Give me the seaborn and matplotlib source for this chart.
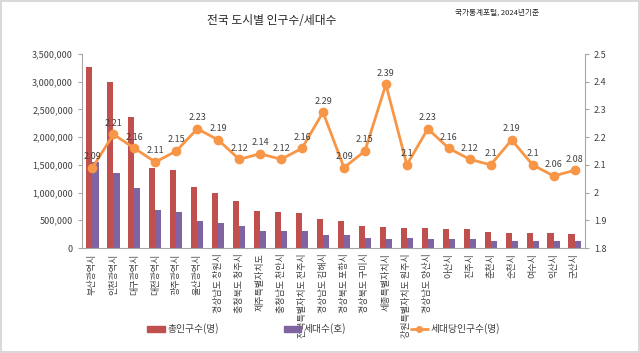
import numpy as np
import pandas as pd
import matplotlib
matplotlib.use("Agg")
import matplotlib.pyplot as plt
import seaborn as sns
from matplotlib.ticker import FuncFormatter, FixedLocator
from matplotlib.patches import Patch
from matplotlib.lines import Line2D

cities = ["부산광역시", "인천광역시", "대구광역시", "대전광역시", "광주광역시", "울산광역시",
          "경상남도 창원시", "충청북도 청주시", "제주특별자치도", "충청남도 천안시",
          "전북특별자치도 전주시", "경상남도 김해시", "경상북도 포항시", "경상북도 구미시",
          "세종특별자치시", "강원특별자치도 원주시", "경상남도 양산시", "아산시", "진주시",
          "춘천시", "순천시", "여수시", "익산시", "군산시"]
population = [3270000, 2990000, 2360000, 1440000, 1410000, 1100000, 1000000, 845000,
              670000, 655000, 635000, 525000, 490000, 405000, 385000, 360000, 353000,
              345000, 338000, 283000, 276000, 274000, 270000, 260000]
households = [1560000, 1350000, 1090000, 680000, 655000, 490000, 455000, 398000,
              312000, 308000, 300000, 228000, 232000, 188000, 168000, 176000, 165000,
              157000, 155000, 135000, 133000, 132000, 131000, 128000]
ratio = [2.09, 2.21, 2.16, 2.11, 2.15, 2.23, 2.19, 2.12, 2.14, 2.12, 2.16, 2.29,
         2.09, 2.15, 2.39, 2.1, 2.23, 2.16, 2.12, 2.1, 2.19, 2.1, 2.06, 2.08]
series_names = ["총인구수(명)", "세대수(호)", "세대당인구수(명)"]
title = "전국 도시별 인구수/세대수"
source = "국가통계포털, 2024년기준"

RED, PURPLE, ORANGE = "#C0504D", "#8064A2", "#F79646"
GRAY = "#A6A6A6"
TXT = "#404040"

sns.set_theme(style="white")
plt.rcParams["font.family"] = ["Noto Sans CJK KR", "DejaVu Sans"]

df = pd.DataFrame({
    "city": cities * 2,
    "value": population + households,
    "series": [series_names[0]] * len(cities) + [series_names[1]] * len(cities),
})
df_r = pd.DataFrame({"city": cities, "ratio": ratio})

fig = plt.figure(figsize=(6.4, 3.53), dpi=100)
fig.patch.set_edgecolor("#D9D9D9")
fig.patch.set_linewidth(1.5)
ax = fig.add_axes([82 / 640, 1 - 248 / 353, (585 - 82) / 640, (248 - 54) / 353])

sns.barplot(data=df, x="city", y="value", hue="series", order=cities,
            palette=[RED, PURPLE], width=0.58, ax=ax, legend=False,
            errorbar=None, saturation=1, linewidth=0)

ax2 = ax.twinx()
sns.pointplot(data=df_r, x="city", y="ratio", order=cities, color=ORANGE,
              markers="o", markersize=5.5, linewidth=2, errorbar=None, ax=ax2)

ax.set_xlim(-0.5, len(cities) - 0.5)
ax.set_ylim(0, 3500000)
ax2.set_ylim(1.8, 2.5)
ax.set_yticks(np.arange(0, 3500001, 500000))
ax2.set_yticks(np.round(np.arange(1.8, 2.5001, 0.1), 1))
ax.yaxis.set_major_formatter(FuncFormatter(lambda v, p: f"{int(v):,}"))
ax2.yaxis.set_major_formatter(FuncFormatter(lambda v, p: f"{v:g}"))

ax.set_xticks(range(len(cities)))
ax.set_xticklabels(cities, rotation=90, fontsize=6.5, color=TXT)
ax.xaxis.set_minor_locator(FixedLocator(np.arange(-0.5, len(cities), 1)))
ax.tick_params(axis="x", which="major", length=0, pad=4)
ax.tick_params(axis="x", which="minor", length=4, color=GRAY, width=0.8, direction="out")
ax.tick_params(axis="y", labelsize=6.5, colors=TXT, length=3, color=GRAY, width=0.8, direction="out", left=True)
ax2.tick_params(axis="y", labelsize=6.5, colors=TXT, length=3, color=GRAY, width=0.8, direction="out", right=True)
for t in ax.get_yticklabels() + ax2.get_yticklabels():
    t.set_color(TXT)

for a in (ax, ax2):
    a.set_xlabel("")
    a.set_ylabel("")
    a.spines["top"].set_visible(False)
    for s in ("left", "right", "bottom"):
        a.spines[s].set_color(GRAY)
        a.spines[s].set_linewidth(0.8)
ax.spines["right"].set_visible(False)
ax2.spines["left"].set_visible(False)
ax2.spines["bottom"].set_visible(False)

for i, r in enumerate(ratio):
    ax2.annotate(f"{r:g}", (i, r), xytext=(0, 8), textcoords="offset points",
                 ha="center", va="center", fontsize=6.5, color=TXT)

fig.text(272 / 640, 1 - 20 / 353, title, ha="center", va="center", fontsize=8.5, color="#262626")
fig.text(455 / 640, 1 - 13 / 353, source, ha="left", va="center", fontsize=5.5, color="#262626")

handles = [Patch(facecolor=RED, edgecolor=RED),
           Patch(facecolor=PURPLE, edgecolor=PURPLE),
           Line2D([0], [0], color=ORANGE, lw=2, marker="o", markersize=4)]
leg = fig.legend(handles, series_names, loc="center", bbox_to_anchor=(324 / 640, 1 - 329 / 353),
                 ncol=3, frameon=False, fontsize=7, columnspacing=6.6, handlelength=1.8,
                 handleheight=0.5, handletextpad=0.3)
for t in leg.get_texts():
    t.set_color(TXT)

fig.savefig("out.png", dpi=100)
